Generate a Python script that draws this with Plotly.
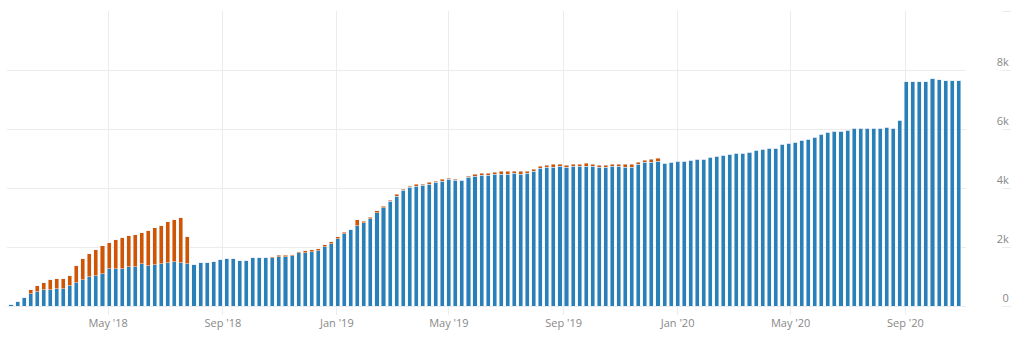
import pandas as pd
import plotly.graph_objects as go

# Weekly totals, split into the main series (blue) and the extra part (orange)
week_start = "2018-01-17"
n_weeks = 146

blue = [
    40, 136, 272, 409, 477, 545, 545, 579, 579, 681,
    784, 886, 988, 1022, 1090, 1261, 1261, 1261, 1329, 1329,
    1431, 1363, 1397, 1431, 1465, 1499, 1465, 1431, 1397, 1465,
    1465, 1499, 1567, 1601, 1601, 1533, 1533, 1635, 1635, 1635,
    1635, 1669, 1669, 1704, 1806, 1806, 1840, 1874, 2010, 2112,
    2283, 2453, 2590, 2726, 2828, 2964, 3169, 3339, 3543, 3713,
    3918, 4020, 4054, 4088, 4122, 4190, 4224, 4293, 4259, 4259,
    4361, 4395, 4429, 4429, 4463, 4463, 4463, 4497, 4463, 4497,
    4565, 4668, 4702, 4702, 4736, 4702, 4736, 4736, 4736, 4736,
    4702, 4702, 4736, 4736, 4702, 4702, 4804, 4872, 4872, 4906,
    4838, 4872, 4906, 4906, 4940, 4974, 4974, 5042, 5076, 5110,
    5144, 5179, 5179, 5213, 5281, 5315, 5349, 5349, 5485, 5519,
    5553, 5621, 5655, 5723, 5826, 5894, 5928, 5928, 5962, 6030,
    6030, 6030, 6030, 6030, 6064, 6030, 6303, 7598, 7598, 7598,
    7598, 7700, 7666, 7632, 7632, 7632,
]

orange = [
    0, 0, 0, 136, 204, 239, 341, 341, 341, 341,
    579, 715, 784, 886, 954, 886, 988, 1056, 1056, 1090,
    1056, 1192, 1261, 1295, 1397, 1431, 1533, 920, 0, 0,
    0, 0, 0, 0, 0, 0, 0, 0, 0, 0,
    40, 45, 45, 40, 40, 68, 68, 68, 68, 68,
    68, 40, 0, 204, 40, 40, 68, 40, 40, 68,
    40, 40, 68, 40, 68, 40, 68, 40, 40, 0,
    40, 68, 68, 68, 68, 100, 100, 68, 100, 68,
    68, 68, 68, 100, 68, 68, 68, 68, 100, 68,
    68, 68, 68, 68, 100, 100, 68, 68, 100, 100,
    0, 0, 0, 0, 0, 0, 0, 0, 0, 0,
    0, 0, 0, 0, 0, 0, 0, 0, 0, 0,
    0, 0, 0, 0, 0, 0, 0, 0, 0, 0,
    0, 0, 0, 0, 0, 0, 0, 0, 0, 0,
    0, 0, 0, 0, 0, 0,
]

y_tick_vals = [0, 2000, 4000, 6000, 8000, 10000]
y_tick_text = ["0", "2k", "4k", "6k", "8k", ""]

weeks = pd.date_range(week_start, periods=n_weeks, freq="7D")

BLUE = "#2980b9"
ORANGE = "#d35400"
GRID = "#ececec"
LABEL = "#888888"
Y_RANGE = [-305, 10000]

fig = go.Figure()
fig.add_trace(go.Bar(x=weeks, y=blue, marker_color=BLUE, hoverinfo="x+y"))
fig.add_trace(go.Bar(x=weeks, y=orange, marker_color=ORANGE, hoverinfo="x+y"))
# empty trace so the label axis is rendered
fig.add_trace(go.Scatter(x=[], y=[], yaxis="y2", showlegend=False))

fig.update_layout(
    width=1021,
    height=343,
    margin=dict(l=7, r=10, t=11, b=28),
    barmode="stack",
    bargap=0.38,
    showlegend=False,
    paper_bgcolor="white",
    plot_bgcolor="white",
    font=dict(family="Open Sans", size=11, color=LABEL),
    xaxis=dict(
        type="date",
        domain=[0, 0.9552],
        range=["2018-01-12 17:10", "2020-11-04 22:00"],
        tick0="2018-01-01",
        dtick="M4",
        tickformat="%b '%y",
        showgrid=True,
        gridcolor=GRID,
        gridwidth=1,
        zeroline=False,
        showline=False,
        ticks="",
        tickfont=dict(size=11, color=LABEL),
    ),
    yaxis=dict(
        range=Y_RANGE,
        tickvals=y_tick_vals,
        showticklabels=False,
        showgrid=True,
        gridcolor=GRID,
        gridwidth=1,
        zeroline=False,
        showline=False,
        ticks="",
    ),
    yaxis2=dict(
        overlaying="y",
        anchor="free",
        position=1.0,
        side="left",
        range=Y_RANGE,
        tickvals=y_tick_vals,
        ticktext=y_tick_text,
        ticks="outside",
        ticklen=9,
        tickwidth=1,
        tickcolor=GRID,
        ticklabelposition="outside top",
        showgrid=False,
        zeroline=False,
        showline=False,
        tickfont=dict(size=11, color=LABEL),
    ),
)

fig.write_html("out.html")
